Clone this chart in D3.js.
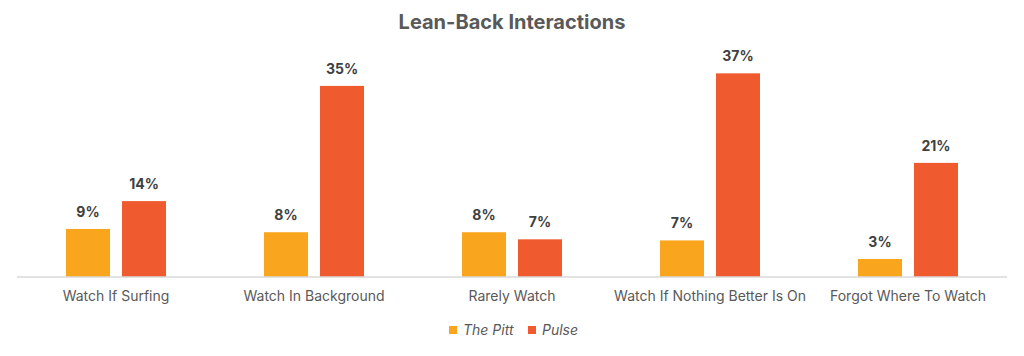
<!DOCTYPE html>
<html><head><meta charset="utf-8">
<script src="https://cdn.jsdelivr.net/npm/d3@7"></script>
<style>body{margin:0;background:#fff;} svg{display:block;}</style>
</head><body>
<svg id="c" width="1024" height="356"></svg>
<script>
const categories = ["Watch If Surfing","Watch In Background","Rarely Watch","Watch If Nothing Better Is On","Forgot Where To Watch"];
const seriesNames = ["The Pitt","Pulse"];
const pittValues = [8.8, 8.2, 8.2, 6.7, 3.3];
const pulseValues = [13.9, 35.0, 6.9, 37.3, 20.9];
const colors = ["#F9A51E","#EF5A2F"];
const title = "Lean-Back Interactions";

const font = "Inter, 'Open Sans', sans-serif";
const svg = d3.select("#c");
const left = 17, right = 1007, base = 277;
const x0 = d3.scaleBand().domain(categories).range([left,right]).paddingInner(98/198).paddingOuter(49/198);
const x1 = d3.scaleBand().domain(seriesNames).range([0,x0.bandwidth()]).paddingInner(12/56);
const y = d3.scaleLinear().domain([0,40]).range([base, base-40*5.46]);
const color = d3.scaleOrdinal().domain(seriesNames).range(colors);

svg.append("text").attr("x",512).attr("y",29).attr("text-anchor","middle")
  .attr("font-family",font).attr("font-weight",700).attr("font-size",20).attr("fill","#595959").text(title);

const rows = categories.map((c,i)=>({c, vals:[{s:seriesNames[0],v:pittValues[i]},{s:seriesNames[1],v:pulseValues[i]}]}));
const g = svg.selectAll("g.cat").data(rows).join("g").attr("transform",d=>`translate(${x0(d.c)},0)`);
g.selectAll("rect").data(d=>d.vals).join("rect")
  .attr("x",d=>x1(d.s)).attr("width",x1.bandwidth())
  .attr("y",d=>y(d.v)).attr("height",d=>base-y(d.v)).attr("fill",d=>color(d.s));
g.selectAll("text.lbl").data(d=>d.vals).join("text").attr("class","lbl")
  .attr("x",d=>x1(d.s)+x1.bandwidth()/2).attr("y",d=>y(d.v)-12).attr("text-anchor","middle")
  .attr("font-family",font).attr("font-weight",700).attr("font-size",14).attr("fill","#404040")
  .text(d=>Math.round(d.v)+"%");

const axis = svg.append("g").attr("transform",`translate(0,${base})`)
  .call(d3.axisBottom(x0).tickSize(0).tickPadding(14));
axis.select(".domain").attr("stroke","#d9d9d9").attr("stroke-width",1.3).attr("d",`M${left},0H${right}`);
axis.selectAll("text").attr("font-family",font).attr("font-size",14).attr("fill","#595959");

const leg = svg.append("g").attr("transform","translate(449,331)");
const items = [{s:seriesNames[0],x:0},{s:seriesNames[1],x:79}];
items.forEach(it=>{
  leg.append("rect").attr("x",it.x).attr("y",-5).attr("width",8).attr("height",8).attr("fill",color(it.s));
  leg.append("text").attr("x",it.x+14).attr("y",0).attr("dominant-baseline","middle")
    .attr("font-family",font).attr("font-style","italic").attr("font-size",14).attr("fill","#595959").text(it.s);
});
</script>
</body></html>
